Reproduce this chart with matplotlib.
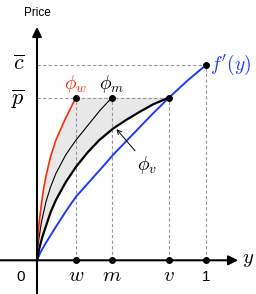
import matplotlib
matplotlib.use('Agg')
import matplotlib.pyplot as plt

plt.rcParams['mathtext.fontset'] = 'cm'

# key levels / positions (x in units of y, price normalised so c_bar = 1)
w, m, v = 0.23, 0.443, 0.781
p_bar, c_bar = 0.833, 1.0

# curves
phi_w_x = [0, 0.004, 0.012, 0.024, 0.038, 0.053, 0.08, 0.112, 0.165, 0.23]
phi_w_y = [0, 0.10, 0.19, 0.274, 0.36, 0.43, 0.53, 0.616, 0.72, 0.833]

phi_m_x = [0, 0.008, 0.025, 0.053, 0.08, 0.112, 0.17, 0.231, 0.30, 0.37, 0.443]
phi_m_y = [0, 0.09, 0.19, 0.30, 0.375, 0.445, 0.54, 0.616, 0.69, 0.765, 0.833]

phi_v_x = [0, 0.012, 0.03, 0.053, 0.08, 0.112, 0.17, 0.231, 0.30, 0.369, 0.451, 0.53, 0.609, 0.69, 0.781]
phi_v_y = [0, 0.055, 0.115, 0.175, 0.245, 0.309, 0.40, 0.479, 0.553, 0.616, 0.675, 0.72, 0.761, 0.80, 0.833]

fp_x = [0, 0.02, 0.053, 0.112, 0.17, 0.231, 0.30, 0.389, 0.45, 0.517, 0.60, 0.69, 0.781, 0.89, 1.0]
fp_y = [0, 0.04, 0.09, 0.172, 0.25, 0.326, 0.393, 0.479, 0.54, 0.60, 0.675, 0.755, 0.833, 0.92, 1.0]

fig = plt.figure(figsize=(2.56, 2.94), dpi=100)
ax = fig.add_axes([0, 0, 1, 1])
ax.set_xlim(-0.219, 1.296)
ax.set_ylim(-0.1726, 1.333)
ax.axis('off')

# shaded region between phi_w and phi_v, closed along p_bar
fill_x = phi_w_x + phi_v_x[::-1]
fill_y = phi_w_y + phi_v_y[::-1]
ax.fill(fill_x, fill_y, color='#e8e8e8', lw=0, zorder=1)

# dashed guides
dash = dict(color='#999999', lw=0.8, ls=(0, (3, 2)), zorder=2)
ax.plot([0, 1], [c_bar, c_bar], **dash)
ax.plot([0, v], [p_bar, p_bar], **dash)
for xx in (w, m, v):
    ax.plot([xx, xx], [0, p_bar], **dash)
ax.plot([1, 1], [0, c_bar], **dash)

# curves
ax.plot(fp_x, fp_y, color='#1a3cff', lw=1.4, zorder=3)
ax.plot(phi_v_x, phi_v_y, color='black', lw=1.6, zorder=4)
ax.plot(phi_m_x, phi_m_y, color='black', lw=0.8, zorder=4)
ax.plot(phi_w_x, phi_w_y, color='#ff2a0a', lw=1.2, zorder=4)

# axes with arrow heads
arr = dict(arrowstyle='-|>', lw=1.5, color='black', mutation_scale=14,
           shrinkA=0, shrinkB=0)
ax.annotate('', xy=(0, 1.195), xytext=(0, -0.17), arrowprops=arr, zorder=5)
ax.annotate('', xy=(1.19, 0), xytext=(-0.22, 0), arrowprops=arr, zorder=5)

# dots
ax.plot([w, m, v, 1], [p_bar, p_bar, p_bar, c_bar], 'o', color='black', ms=4, zorder=6)
ax.plot([w, m, v, 1], [0, 0, 0, 0], 'o', color='black', ms=4, zorder=6)

# labels
ax.text(0.0, 1.265, 'Price', ha='center', va='center', fontsize=8.5,
        family='Liberation Sans')
ax.text(-0.11, c_bar + 0.005, r'$\overline{c}$', ha='center', va='center', fontsize=16)
ax.text(-0.11, p_bar - 0.01, r'$\overline{p}$', ha='center', va='center', fontsize=16)
ax.text(w, 0.905, r'$\phi_w$', ha='center', va='center', fontsize=14, color='#ff2a0a')
ax.text(m, 0.905, r'$\phi_m$', ha='center', va='center', fontsize=14, color='black')
ax.text(1.025, c_bar, r"$f'(y)$", ha='left', va='center', fontsize=14, color='#1a3cff')
ax.annotate(r'$\phi_v$', xy=(0.47, 0.672), xytext=(0.65, 0.49),
            ha='center', va='center', fontsize=14,
            arrowprops=dict(arrowstyle='->', lw=0.7, color='black',
                            shrinkA=0, shrinkB=0, mutation_scale=8))

ax.text(-0.095, -0.106, '0', ha='center', va='baseline', fontsize=11,
        family='Liberation Sans')
ax.text(1, -0.106, '1', ha='center', va='baseline', fontsize=11,
        family='Liberation Sans')
ax.text(w, -0.106, r'$w$', ha='center', va='baseline', fontsize=15)
ax.text(m, -0.106, r'$m$', ha='center', va='baseline', fontsize=15)
ax.text(v, -0.106, r'$v$', ha='center', va='baseline', fontsize=15)
ax.text(1.215, 0.005, r'$y$', ha='left', va='center', fontsize=15)

fig.savefig('out.png', dpi=100)
